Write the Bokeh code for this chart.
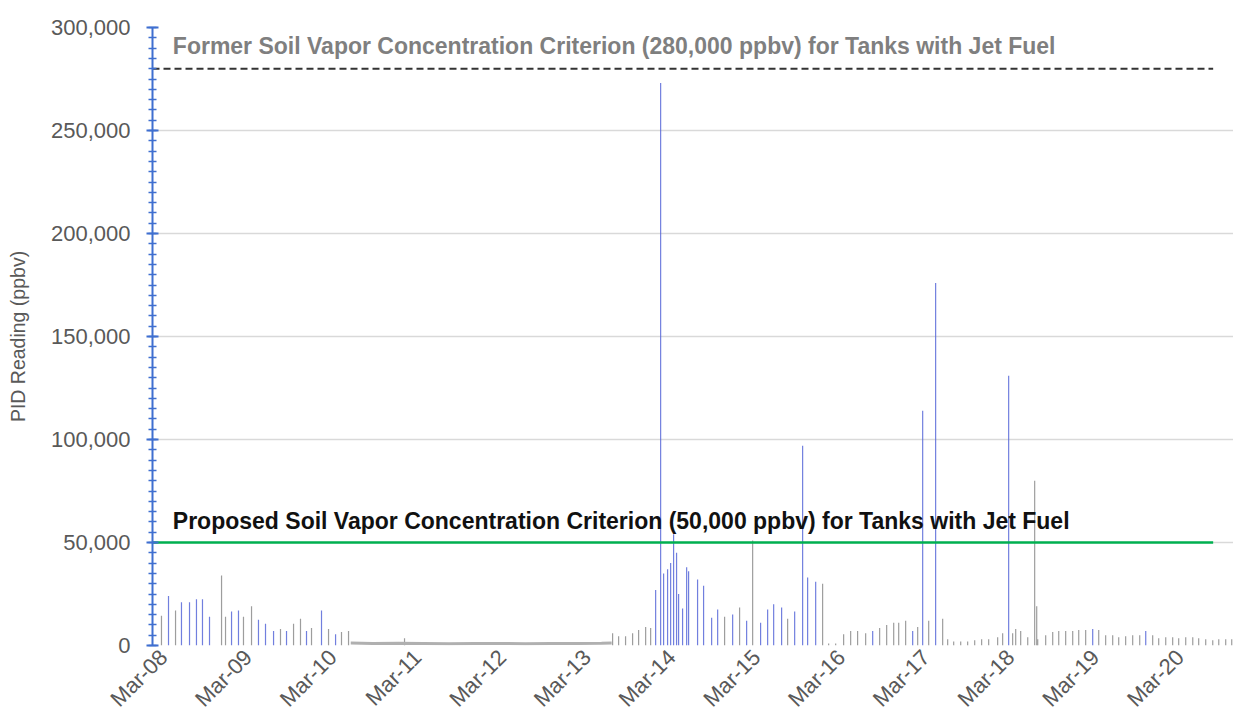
import numpy as np
import pandas as pd
from bokeh.plotting import figure
from bokeh.models import (Range1d, FixedTicker, SingleIntervalTicker, NumeralTickFormatter,
                          DatetimeTickFormatter, Label, ColumnDataSource)
from bokeh.embed import file_html
from bokeh.resources import INLINE

# ---------------- data (days since Mar-08 00:00, PID reading in ppbv) ----------------
base_date = "2021-03-08"

blue_days = [0.189, 0.342, 0.437, 0.519, 0.590, 0.673, 0.933, 1.015, 1.251, 1.334, 1.429,
             1.582, 1.818, 1.995, 2.161,
             5.939, 5.998, 6.033, 6.080, 6.116, 6.151, 6.186, 6.210, 6.257, 6.305, 6.328,
             6.434, 6.505, 6.600, 6.671, 6.848, 7.013, 7.178, 7.261, 7.332, 7.426, 7.580,
             7.674, 7.733, 7.828, 8.501, 8.973, 9.091, 9.244, 10.106, 11.098, 11.724]
blue_vals = [24000, 21000, 21000, 22500, 22500, 14000, 16500, 17000, 12500, 10500, 7000,
             7000, 7000, 17000, 5500,
             27000, 273000, 35000, 37000, 40000, 54000, 45000, 25000, 18000, 38000, 36000,
             32000, 29000, 13500, 17500, 15000, 12000, 11000, 17500, 20000, 18500, 16500,
             97000, 33000, 31000, 7000, 7000, 114000, 176000, 131000, 8000, 7000]

gray_days = [0.106, 0.272, 0.815, 0.862, 1.074, 1.169, 1.511, 1.665, 1.747, 1.877, 2.078,
             2.231, 2.314, 2.975,
             5.431, 5.502, 5.584, 5.667, 5.738, 5.821, 5.880, 6.753, 6.930, 7.084, 7.497,
             7.910, 7.981, 8.064, 8.158, 8.241, 8.323, 8.418, 8.583, 8.666, 8.749, 8.808,
             8.890, 9.032, 9.162, 9.327, 9.386, 9.457, 9.540, 9.622, 9.705, 9.787, 9.870,
             9.976, 10.035, 10.153, 10.189, 10.248, 10.331, 10.413, 10.437, 10.449, 10.543,
             10.626, 10.697, 10.779, 10.862, 10.933, 11.015, 11.169, 11.251, 11.334, 11.405,
             11.487, 11.570, 11.653, 11.806, 11.877, 11.960, 12.042, 12.113, 12.196, 12.279,
             12.349, 12.432, 12.515, 12.586, 12.668, 12.739]
gray_vals = [14500, 17000, 34000, 14000, 14000, 19000, 8000, 10500, 13000, 8500, 8000,
             6500, 7000, 3500,
             6000, 4500, 4500, 6000, 7500, 9000, 8500, 14000, 18500, 51000, 13000,
             30000, 1000, 1000, 5500, 7000, 7000, 6000, 8500, 10000, 11000, 11000,
             12000, 9000, 12000, 13000, 3000, 2000, 2000, 2000, 2500, 3000, 3000,
             4000, 6000, 6000, 8000, 7000, 4000, 80000, 19000, 3000, 5000,
             6500, 7000, 7000, 7000, 7500, 7500, 7500, 5000, 5000, 4000,
             4500, 5000, 5000, 5000, 3500, 4000, 4000, 3500, 4000, 4000,
             3500, 3000, 2500, 3000, 3000, 3000]

quiet_days = [2.34, 2.60, 2.90, 3.20, 3.50, 3.80, 4.10, 4.40, 4.70, 5.00, 5.30, 5.42]
quiet_vals = [1200, 1000, 1100, 1000, 900, 1000, 1000, 900, 1000, 1000, 1100, 1200]

former_criterion = 280000
proposed_criterion = 50000
criterion_days = [0.0, 12.52]
former_text = "Former Soil Vapor Concentration Criterion (280,000 ppbv) for Tanks with Jet Fuel"
proposed_text = "Proposed Soil Vapor Concentration Criterion (50,000 ppbv) for Tanks with Jet Fuel"

tick_labels = ["Mar-08", "Mar-09", "Mar-10", "Mar-11", "Mar-12", "Mar-13", "Mar-14",
               "Mar-15", "Mar-16", "Mar-17", "Mar-18", "Mar-19", "Mar-20"]
y_label = "PID Reading (ppbv)"

# ---------------- helpers ----------------
t0 = pd.Timestamp(base_date)
def to_dt(days):
    return [t0 + pd.to_timedelta(d, unit="D") for d in days]
def to_ms(ts):
    return ts.value / 1e6

x_end_days = 12.76
label_shift_days = 0.13   # visual shift of rotated date labels
FONT = "Liberation Sans"
TXT = "#595959"

p = figure(width=1233, height=723, x_axis_type="datetime",
           output_backend="svg", toolbar_location=None,
           x_range=Range1d(to_ms(t0), to_ms(t0 + pd.to_timedelta(x_end_days, unit="D"))),
           y_range=Range1d(0, 300000),
           min_border_left=152, min_border_right=0, min_border_top=27, min_border_bottom=78)
p.outline_line_color = None
p.background_fill_color = "white"

# grid
p.xgrid.grid_line_color = None
p.ygrid.grid_line_color = "#D9D9D9"
p.ygrid.grid_line_width = 1.3

# spikes
bsrc = ColumnDataSource(dict(t=to_dt(blue_days), v=blue_vals))
gsrc = ColumnDataSource(dict(t=to_dt(gray_days), v=gray_vals))
p.segment(x0="t", y0=0, x1="t", y1="v", source=gsrc, line_color="#8C8C8C", line_width=1.2, line_alpha=0.85)
p.segment(x0="t", y0=0, x1="t", y1="v", source=bsrc, line_color="#5868D8", line_width=1.2, line_alpha=0.85)
p.line(to_dt(quiet_days), quiet_vals, line_color="#B0B0B0", line_width=3)

# criteria lines
cx = to_dt(criterion_days)
p.line(cx, [former_criterion] * 2, line_color="#333333", line_width=2, line_dash="7 4")
p.line(cx, [proposed_criterion] * 2, line_color="#00B050", line_width=2.5)

label_x = to_ms(t0 + pd.to_timedelta(0.24, unit="D"))
p.add_layout(Label(x=label_x, y=former_criterion, text=former_text, text_font=FONT,
                   text_font_size="23px", text_font_style="bold", text_color="#7F7F7F",
                   text_baseline="bottom", y_offset=10))
p.add_layout(Label(x=label_x, y=proposed_criterion, text=proposed_text, text_font=FONT,
                   text_font_size="23px", text_font_style="bold", text_color="#111111",
                   text_baseline="bottom", y_offset=9))

# x axis
xa = p.xaxis[0]
xa.ticker = FixedTicker(ticks=[to_ms(t0 + pd.to_timedelta(i + label_shift_days, unit="D"))
                               for i in range(len(tick_labels))])
xa.formatter = DatetimeTickFormatter(days="%b-%d", months="%b-%d", hours="%b-%d",
                                     years="%b-%d", hourmin="%b-%d", minutes="%b-%d")
xa.major_label_orientation = np.pi / 4
xa.axis_line_color = None
xa.major_tick_line_color = None
xa.minor_tick_line_color = None
xa.major_label_text_font = FONT
xa.major_label_text_font_size = "22px"
xa.major_label_text_color = TXT
xa.major_label_standoff = 2

# y axis
ya = p.yaxis[0]
ya.ticker = SingleIntervalTicker(interval=50000, num_minor_ticks=10)
ya.formatter = NumeralTickFormatter(format="0,0")
ya.axis_line_color = "#3F6FD0"
ya.axis_line_width = 2
ya.major_tick_line_color = "#3F6FD0"
ya.minor_tick_line_color = "#3F6FD0"
ya.major_tick_line_width = 2
ya.minor_tick_line_width = 1.5
ya.major_tick_in = 6
ya.major_tick_out = 6
ya.minor_tick_in = 4
ya.minor_tick_out = 4
ya.major_label_text_font = FONT
ya.major_label_text_font_size = "22px"
ya.major_label_text_color = TXT
ya.major_label_standoff = 16
ya.axis_label = y_label
ya.axis_label_text_font = FONT
ya.axis_label_text_font_size = "19.5px"
ya.axis_label_text_font_style = "normal"
ya.axis_label_text_color = TXT
ya.axis_label_standoff = 19

open("out.html", "w").write(file_html(p, INLINE))
